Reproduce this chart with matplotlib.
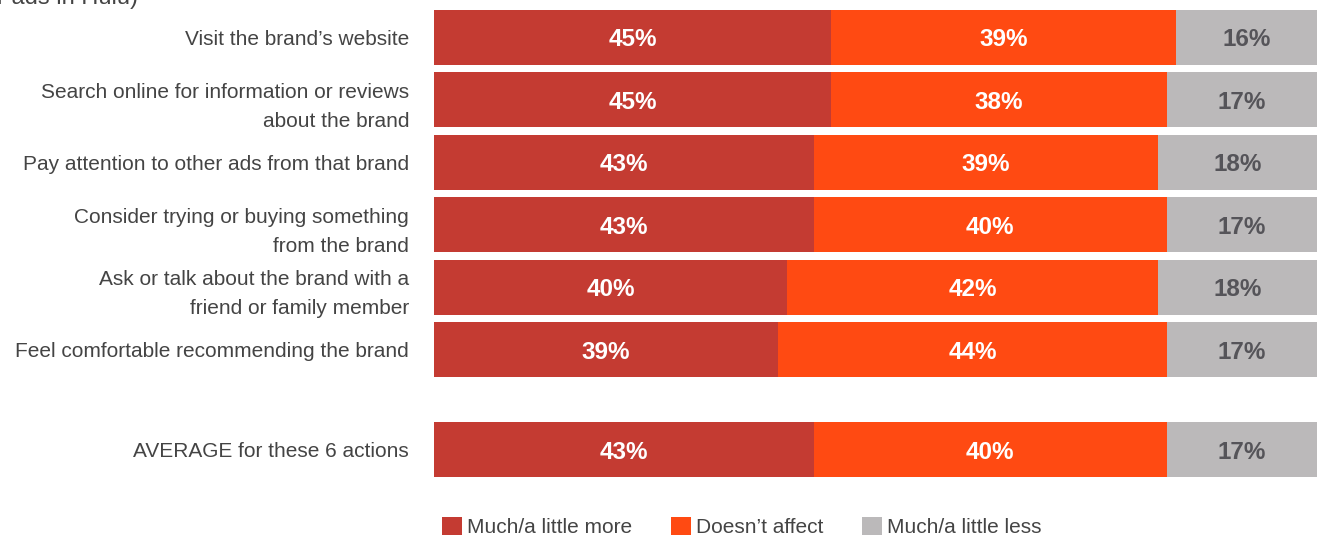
import matplotlib.pyplot as plt
from matplotlib.patches import Patch

actions = [
    'Visit the brand\u2019s website',
    'Search online for information or reviews\nabout the brand',
    'Pay attention to other ads from that brand',
    'Consider trying or buying something\nfrom the brand',
    'Ask or talk about the brand with a\nfriend or family member',
    'Feel comfortable recommending the brand',
    'AVERAGE for these 6 actions',
]
more = [45, 45, 43, 43, 40, 39, 43]
no_effect = [39, 38, 39, 40, 42, 44, 40]
less = [16, 17, 18, 17, 18, 17, 17]

series_names = ['Much/a little more', 'Doesn\u2019t affect', 'Much/a little less']
colors = ['#C43B32', '#FF4A12', '#BBB9BA']
label_colors = ['white', 'white', '#555459']
text_color = '#444444'

plt.rcParams['font.family'] = ['Liberation Sans', 'DejaVu Sans']

fig = plt.figure(figsize=(13.17, 5.36), dpi=100)
ax = fig.add_axes([434 / 1317, 59 / 536, 883 / 1317, 467 / 536])

# average row sits a bit apart from the six actions
ypos = [0, 1, 2, 3, 4, 5, 6.6]
bar_h = 0.88

left = [0] * len(actions)
for vals, col, lcol in zip([more, no_effect, less], colors, label_colors):
    ax.barh(ypos, vals, left=left, height=bar_h, color=col, edgecolor='none')
    for y, l, v in zip(ypos, left, vals):
        ax.text(l + v / 2, y + 0.04, f'{v}%', ha='center', va='center',
                color=lcol, fontsize=17.5, fontweight='bold')
    left = [a + b for a, b in zip(left, vals)]

ax.set_xlim(0, 100)
ax.set_ylim(6.6 + bar_h / 2, -bar_h / 2)
ax.set_yticks(ypos)
ax.set_yticklabels(actions, fontsize=15, color=text_color, linespacing=1.65)
ax.tick_params(axis='y', length=0, pad=18)
ax.tick_params(axis='x', length=0, labelbottom=False)
for s in ax.spines.values():
    s.set_visible(False)
for lab in ax.get_yticklabels():
    lab.set_horizontalalignment('right')

fig.text(-0.002, 1 - 4 / 536, 'r ads in Hulu)', fontsize=17, color=text_color,
         va='baseline', ha='left')

handles = [Patch(facecolor=c, edgecolor='none') for c in colors]
fig.legend(handles, series_names, loc='center', bbox_to_anchor=(742 / 1317, 1 - 527 / 536),
           ncol=3, frameon=False, fontsize=15, handlelength=0.95, handleheight=0.95,
           handletextpad=0.25, columnspacing=1.85, labelcolor=text_color,
           borderpad=0, borderaxespad=0)

fig.savefig('out.png', dpi=100)
